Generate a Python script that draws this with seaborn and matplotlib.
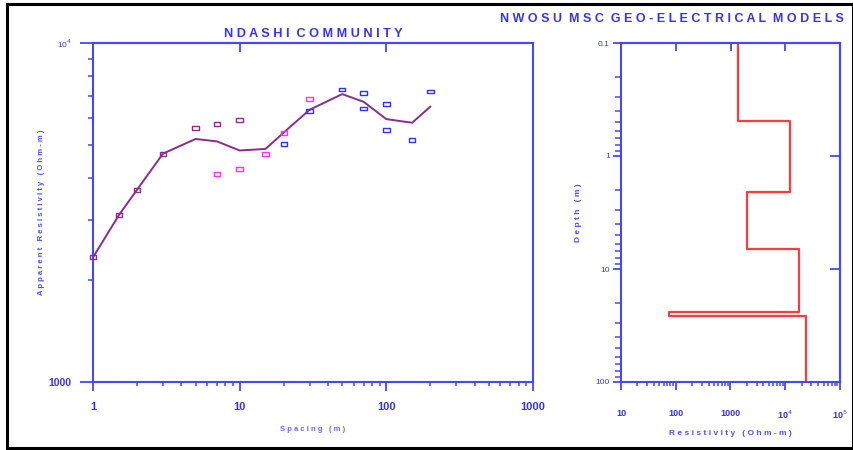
import numpy as np
import pandas as pd
import matplotlib
matplotlib.use("Agg")
import matplotlib.pyplot as plt
from matplotlib.ticker import NullLocator, LogLocator, NullFormatter
from matplotlib.path import Path
from matplotlib.patches import Rectangle
import seaborn as sns

# ---------------- data ----------------
spacing_purple = [1, 1.5, 2, 3, 5, 7, 10]
rho_purple = [2331, 3105, 3695, 4716, 5612, 5770, 5928]

spacing_magenta = [7, 10, 15, 20, 30]
rho_magenta = [4120, 4238, 4693, 5436, 6856]

spacing_blue = [20, 30, 50, 70, 70, 100, 100, 150, 200]
rho_blue = [5050, 6310, 7294, 7127, 6410, 6616, 5548, 5174, 7194]

model_spacing = [1, 1.5, 2, 3, 5, 7, 10, 15, 20, 30, 50, 70, 100, 150, 200]
model_rho = [2331, 3105, 3695, 4716, 5210, 5126, 4819, 4870, 5447, 6354, 7067, 6707, 5963, 5818, 6496]

layer_res = [1358, 12170, 2010, 17460, 76.7, 23800]
layer_bounds = [0.1, 0.49, 2.09, 6.7, 24.2, 25.9, 100]

x_ticks_left = [1, 10, 100, 1000]
x_ticklabels_left = ["1", "10", "100", "1000"]
y_ticks_left = [1000, 10000]
y_ticklabels_left = ["1000", "10$^{4}$"]

x_ticks_right = [10, 100, 1000, 10000, 100000]
x_ticklabels_right = ["10", "100", "1000", "10$^{4}$", "10$^{5}$"]
y_ticks_right = [0.1, 1, 10, 100]
y_ticklabels_right = ["0.1", "1", "10", "100"]

title_left = "NDASHI COMMUNITY"
title_right = "NWOSU MSC GEO-ELECTRICAL MODELS"

# ---------------- style ----------------
sns.set_style("ticks")
plt.rcParams["font.family"] = ["Liberation Sans", "DejaVu Sans"]
BLUE = "#4646ff"
TXT = "#3535f0"
PURPLE = "#8e2a8e"
MAGENTA = "#ff33ee"
MBLUE = "#3030ff"
RED = "#ff3a3a"

def spaced(s):
    return "  ".join(" ".join(w) for w in s.split(" "))

rect = Path([(-1, -0.6), (1, -0.6), (1, 0.6), (-1, 0.6), (-1, -0.6)],
            [Path.MOVETO, Path.LINETO, Path.LINETO, Path.LINETO, Path.CLOSEPOLY])

fig = plt.figure(figsize=(8.54, 4.5), dpi=100)
fig.patch.set_facecolor("white")
fig.patches.append(Rectangle((7 / 854, 2 / 450), 846 / 854, 444 / 450, transform=fig.transFigure,
                             fill=False, edgecolor="black", linewidth=2.2))

ax1 = fig.add_axes([93 / 854, 1 - 382 / 450, 440 / 854, 339 / 450])
ax2 = fig.add_axes([621 / 854, 1 - 382 / 450, 219 / 854, 339 / 450])

# ---------------- left plot ----------------
df_model = pd.DataFrame({"spacing": model_spacing, "rho": model_rho})
sns.lineplot(data=df_model, x="spacing", y="rho", ax=ax1, color=PURPLE, linewidth=1.4,
             sort=False, estimator=None)
for xs, ys, c in [(spacing_purple, rho_purple, PURPLE),
                  (spacing_magenta, rho_magenta, MAGENTA),
                  (spacing_blue, rho_blue, MBLUE)]:
    d = pd.DataFrame({"spacing": xs, "rho": ys})
    sns.scatterplot(data=d, x="spacing", y="rho", ax=ax1, marker=rect, s=22,
                    facecolor="none", edgecolor=c, linewidth=1.0, zorder=3, clip_on=False)

ax1.set_xscale("log")
ax1.set_yscale("log")
ax1.set_xlim(1, 1000)
ax1.set_ylim(1000, 10000)
ax1.set_xticks(x_ticks_left)
ax1.set_xticklabels(x_ticklabels_left, fontsize=8, fontweight="bold", color=TXT)
ax1.set_yticks(y_ticks_left)
ax1.set_yticklabels(y_ticklabels_left, color=TXT)
ax1.get_yticklabels()[0].set_fontsize(7.5)
ax1.get_yticklabels()[0].set_fontweight("bold")
ax1.get_yticklabels()[1].set_fontsize(6)
ax1.xaxis.set_minor_locator(LogLocator(base=10, subs=np.arange(2, 10)))
ax1.yaxis.set_minor_locator(LogLocator(base=10, subs=np.arange(2, 10)))
ax1.xaxis.set_minor_formatter(NullFormatter())
ax1.yaxis.set_minor_formatter(NullFormatter())
ax1.tick_params(axis="x", which="both", bottom=True, top=False)
ax1.tick_params(axis="y", which="both", left=True, right=False)
ax1.tick_params(axis="x", which="major", direction="out", length=6.5, width=1.3, color=BLUE, pad=8)
ax1.tick_params(axis="x", which="minor", direction="out", length=3, width=1.1, color=BLUE)
ax1.tick_params(axis="y", which="major", direction="out", length=9.5, width=1.3, color=BLUE, pad=6)
ax1.tick_params(axis="y", which="minor", direction="out", length=3.6, width=1.1, color=BLUE)
for sp in ax1.spines.values():
    sp.set_visible(True)
    sp.set_color(BLUE)
    sp.set_linewidth(1.5)
sec1 = ax1.secondary_xaxis("top")
sec1.set_xticks([10, 100])
sec1.xaxis.set_minor_locator(NullLocator())
sec1.tick_params(direction="in", length=6.5, width=1.3, color=BLUE, labeltop=False)
sec1.spines["top"].set_color(BLUE)
sec1.spines["top"].set_linewidth(1.5)
ax1.set_xlabel(" ".join("Spacing (m)"), fontsize=5.5, fontweight="bold", color="#6a6aff", labelpad=10)
ax1.set_ylabel(" ".join("Apparent Resistivity (Ohm-m)"), fontsize=5.5, fontweight="bold",
               color="#4a4aff")
ax1.yaxis.set_label_coords(-48 / 440, 0.5)
ax1.set_title(spaced(title_left), fontsize=9.2, fontweight="bold", color=TXT, pad=4)

# ---------------- right plot ----------------
xs_step, ys_step = [], []
for i, r in enumerate(layer_res):
    xs_step += [r, r]
    ys_step += [layer_bounds[i], layer_bounds[i + 1]]
df_step = pd.DataFrame({"res": xs_step, "depth": ys_step})
sns.lineplot(data=df_step, x="res", y="depth", ax=ax2, color=RED, linewidth=1.6,
             sort=False, estimator=None)
ax2.set_xscale("log")
ax2.set_yscale("log")
ax2.set_xlim(10, 100000)
ax2.set_ylim(100, 0.1)
ax2.set_xticks(x_ticks_right)
ax2.set_xticklabels(x_ticklabels_right, fontsize=6.5, fontweight="bold", color=TXT)
ax2.set_yticks(y_ticks_right)
ax2.set_yticklabels(y_ticklabels_right, fontsize=6, color=TXT)
ax2.xaxis.set_minor_locator(LogLocator(base=10, subs=np.arange(2, 10)))
ax2.yaxis.set_minor_locator(LogLocator(base=10, subs=np.arange(2, 10)))
ax2.xaxis.set_minor_formatter(NullFormatter())
ax2.yaxis.set_minor_formatter(NullFormatter())
ax2.tick_params(axis="x", which="both", bottom=True, top=False)
ax2.tick_params(axis="y", which="both", left=True, right=False)
ax2.tick_params(axis="x", which="major", direction="out", length=5.5, width=1.3, color=BLUE, pad=14)
ax2.tick_params(axis="x", which="minor", direction="out", length=3, width=1.1, color=BLUE)
ax2.tick_params(axis="y", which="major", direction="out", length=6, width=1.3, color=BLUE, pad=2)
ax2.tick_params(axis="y", which="minor", direction="out", length=4, width=1.1, color=BLUE)
for sp in ax2.spines.values():
    sp.set_visible(True)
    sp.set_color(BLUE)
    sp.set_linewidth(1.5)
sec2 = ax2.secondary_xaxis("top")
sec2.set_xticks([100, 1000, 10000])
sec2.xaxis.set_minor_locator(NullLocator())
sec2.tick_params(direction="in", length=5.5, width=1.3, color=BLUE, labeltop=False)
sec2.spines["top"].set_color(BLUE)
sec2.spines["top"].set_linewidth(1.5)
sec3 = ax2.secondary_yaxis("right")
sec3.set_yticks([1, 10])
sec3.yaxis.set_minor_locator(NullLocator())
sec3.tick_params(direction="in", length=7.5, width=1.3, color=BLUE, labelright=False)
sec3.spines["right"].set_color(BLUE)
sec3.spines["right"].set_linewidth(1.5)
ax2.set_xlabel(" ".join("Resistivity (Ohm-m)"), fontsize=6, fontweight="bold", color="#5050ff", labelpad=6)
ax2.set_ylabel(" ".join("Depth (m)"), fontsize=6, fontweight="bold", color="#4a4aff", labelpad=10)

fig.text(672 / 854, 1 - 19 / 450, spaced(title_right), fontsize=9, fontweight="bold",
         color=TXT, ha="center", va="center")

fig.savefig("out.png", dpi=100, facecolor="white")
